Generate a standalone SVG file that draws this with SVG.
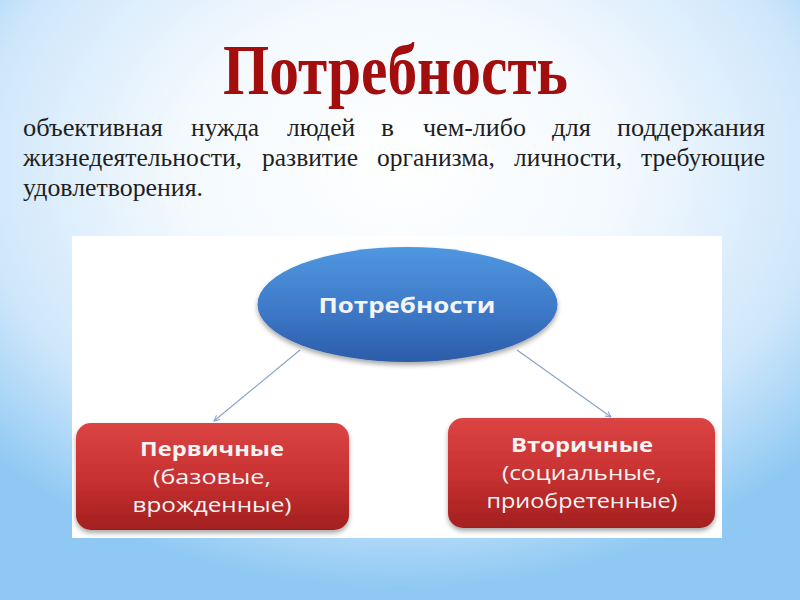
<svg xmlns="http://www.w3.org/2000/svg" width="800" height="600" viewBox="0 0 800 600">
<defs>
<radialGradient id="bg" cx="50%" cy="28%" r="70%" fx="50%" fy="28%">
<stop offset="0" stop-color="#ffffff"/>
<stop offset="0.4" stop-color="#f3f9fe"/>
<stop offset="0.75" stop-color="#cfe7fb"/>
<stop offset="1" stop-color="#8fc9f3"/>
</radialGradient>
<linearGradient id="blue" x1="0" y1="0" x2="0" y2="1">
<stop offset="0" stop-color="#5097e0"/>
<stop offset="0.55" stop-color="#3d79c8"/>
<stop offset="1" stop-color="#2c5ca9"/>
</linearGradient>
<linearGradient id="red" x1="0" y1="0" x2="0" y2="1">
<stop offset="0" stop-color="#dc4444"/>
<stop offset="0.5" stop-color="#c93232"/>
<stop offset="1" stop-color="#a31f1f"/>
</linearGradient>
<filter id="sh" x="-10%" y="-10%" width="120%" height="130%">
<feGaussianBlur in="SourceAlpha" stdDeviation="2.5"/>
<feOffset dy="3" result="b"/>
<feComponentTransfer><feFuncA type="linear" slope="0.35"/></feComponentTransfer>
<feMerge><feMergeNode/><feMergeNode in="SourceGraphic"/></feMerge>
</filter>
<marker id="arr" viewBox="0 0 10 10" refX="9" refY="5" markerWidth="7" markerHeight="7" orient="auto" markerUnits="userSpaceOnUse">
<path d="M1,1 L9,5 L1,9" fill="none" stroke="#8aa4c8" stroke-width="1.4"/>
</marker>
<style>
.para{font-family:"Liberation Serif","Times New Roman",serif;font-size:25px;fill:#1e1e1e}
.title{font-family:"Liberation Serif","Times New Roman",serif;font-size:72px;font-weight:bold;fill:#a30d0d}
.nt{font-family:"Open Sans","Liberation Sans",sans-serif;fill:#f4f4f4;text-anchor:middle}
.b{font-weight:bold}
.conn{stroke:#8aa4c8;stroke-width:1.2;fill:none;marker-end:url(#arr)}
</style>
</defs>
<rect width="800" height="600" fill="url(#bg)"/>
<text class="title" x="223" y="94" textLength="345" lengthAdjust="spacingAndGlyphs">Потребность</text>
<g id="definition">
<text class="para" x="23" y="136" textLength="140" lengthAdjust="spacingAndGlyphs">объективная</text>
<text class="para" x="191" y="136" textLength="68" lengthAdjust="spacingAndGlyphs">нужда</text>
<text class="para" x="287" y="136" textLength="68" lengthAdjust="spacingAndGlyphs">людей</text>
<text class="para" x="381" y="136" textLength="13" lengthAdjust="spacingAndGlyphs">в</text>
<text class="para" x="423" y="136" textLength="103" lengthAdjust="spacingAndGlyphs">чем-либо</text>
<text class="para" x="552" y="136" textLength="39" lengthAdjust="spacingAndGlyphs">для</text>
<text class="para" x="617" y="136" textLength="148" lengthAdjust="spacingAndGlyphs">поддержания</text>
<text class="para" x="23" y="166" textLength="219" lengthAdjust="spacingAndGlyphs">жизнедеятельности,</text>
<text class="para" x="262" y="166" textLength="96" lengthAdjust="spacingAndGlyphs">развитие</text>
<text class="para" x="377" y="166" textLength="118" lengthAdjust="spacingAndGlyphs">организма,</text>
<text class="para" x="514" y="166" textLength="108" lengthAdjust="spacingAndGlyphs">личности,</text>
<text class="para" x="641" y="166" textLength="124" lengthAdjust="spacingAndGlyphs">требующие</text>
<text class="para" x="23" y="196" textLength="180" lengthAdjust="spacingAndGlyphs">удовлетворения.</text>
</g>
<rect x="72" y="236" width="650" height="302" fill="#ffffff"/>
<g id="connectors">
<line class="conn" x1="300" y1="350" x2="214" y2="421"/>
<line class="conn" x1="517" y1="350" x2="611" y2="417"/>
</g>
<g id="node-root">
<ellipse cx="407.5" cy="304.5" rx="150" ry="57.5" fill="url(#blue)" filter="url(#sh)"/>
<text class="nt b" x="407" y="313" font-size="21" textLength="177" lengthAdjust="spacingAndGlyphs">Потребности</text>
</g>
<g id="node-primary">
<rect x="76" y="423" width="273" height="107" rx="15" fill="url(#red)" filter="url(#sh)"/>
<text class="nt b" x="212" y="456" font-size="20" textLength="144" lengthAdjust="spacingAndGlyphs">Первичные</text>
<text class="nt" x="212" y="484" font-size="20" textLength="118" lengthAdjust="spacingAndGlyphs">(базовые,</text>
<text class="nt" x="212" y="512" font-size="20" textLength="159" lengthAdjust="spacingAndGlyphs">врожденные)</text>
</g>
<g id="node-secondary">
<rect x="448" y="418" width="267" height="110" rx="15" fill="url(#red)" filter="url(#sh)"/>
<text class="nt b" x="582" y="452" font-size="20" textLength="142" lengthAdjust="spacingAndGlyphs">Вторичные</text>
<text class="nt" x="582" y="480" font-size="20" textLength="160" lengthAdjust="spacingAndGlyphs">(социальные,</text>
<text class="nt" x="582" y="508" font-size="20" textLength="191" lengthAdjust="spacingAndGlyphs">приобретенные)</text>
</g>
</svg>
